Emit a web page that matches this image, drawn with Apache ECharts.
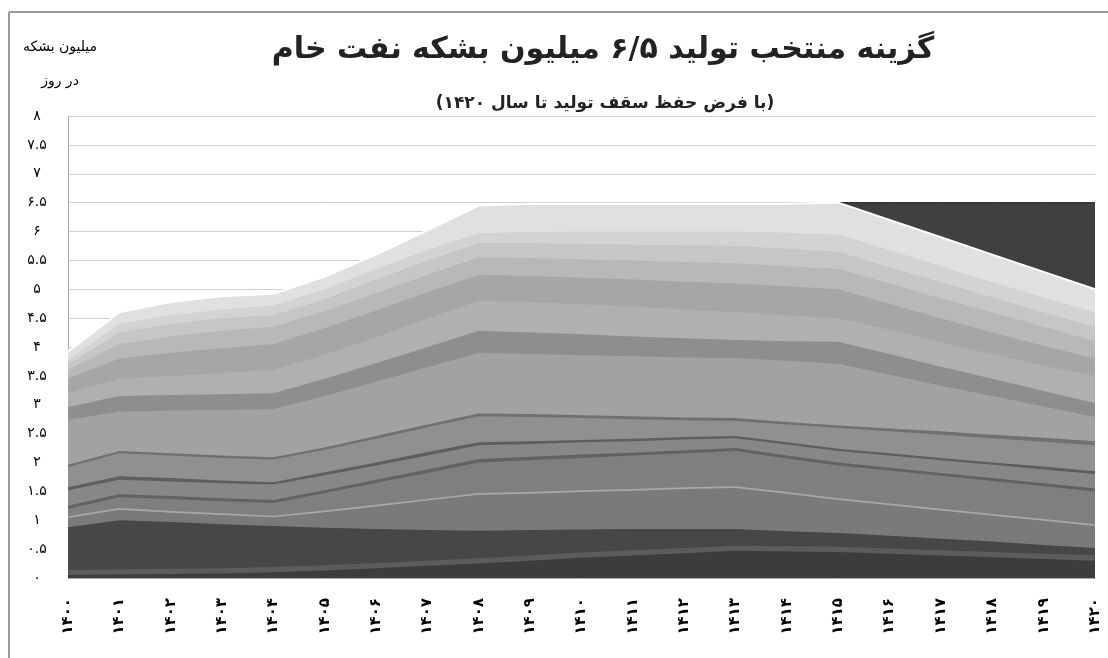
<!DOCTYPE html>
<html><head><meta charset="utf-8">
<script src="https://cdn.jsdelivr.net/npm/echarts@6/dist/echarts.min.js"></script>
<style>html,body{margin:0;padding:0;background:#fff}#c{width:1108px;height:658px}</style>
</head><body><div id="c"></div>
<script>
// Categories (solar years, Persian digits)
const years = ['۱۴۰۰','۱۴۰۱','۱۴۰۲','۱۴۰۳','۱۴۰۴','۱۴۰۵','۱۴۰۶','۱۴۰۷','۱۴۰۸','۱۴۰۹','۱۴۱۰','۱۴۱۱','۱۴۱۲','۱۴۱۳','۱۴۱۴','۱۴۱۵','۱۴۱۶','۱۴۱۷','۱۴۱۸','۱۴۱۹','۱۴۲۰'];
const faDigits = ['۰','۱','۲','۳','۴','۵','۶','۷','۸','۹'];

// Cumulative layer tops (million barrels per day), bottom to top
const c1  = [0.05,0.06,0.07,0.08,0.10,0.13,0.17,0.21,0.25,0.30,0.35,0.39,0.43,0.47,0.46,0.45,0.42,0.39,0.36,0.33,0.30];
const c2  = [0.14,0.15,0.16,0.17,0.19,0.22,0.26,0.30,0.34,0.39,0.44,0.48,0.52,0.56,0.55,0.54,0.51,0.48,0.45,0.42,0.40];
const c3  = [0.88,1.00,0.97,0.93,0.90,0.87,0.85,0.83,0.82,0.83,0.84,0.85,0.85,0.85,0.81,0.78,0.73,0.68,0.63,0.57,0.52];
const c4  = [1.04,1.18,1.13,1.09,1.05,1.14,1.24,1.34,1.44,1.46,1.49,1.51,1.54,1.56,1.46,1.35,1.26,1.17,1.08,0.99,0.90];
const c5  = [1.07,1.21,1.16,1.12,1.08,1.17,1.27,1.37,1.47,1.49,1.52,1.54,1.57,1.59,1.49,1.38,1.29,1.20,1.11,1.02,0.93];
const c6  = [1.20,1.40,1.37,1.33,1.30,1.47,1.65,1.82,2.00,2.04,2.08,2.12,2.16,2.20,2.07,1.95,1.86,1.77,1.68,1.59,1.50];
const c7  = [1.25,1.45,1.42,1.38,1.35,1.52,1.70,1.88,2.06,2.10,2.14,2.17,2.21,2.25,2.12,2.00,1.91,1.82,1.73,1.64,1.55];
const c8  = [1.52,1.70,1.67,1.64,1.62,1.78,1.95,2.12,2.30,2.32,2.35,2.37,2.40,2.42,2.31,2.20,2.12,2.04,1.96,1.88,1.80];
const c9  = [1.57,1.76,1.73,1.69,1.66,1.83,2.00,2.18,2.35,2.37,2.39,2.41,2.44,2.46,2.35,2.24,2.16,2.08,2.00,1.93,1.85];
const c10 = [1.92,2.16,2.12,2.08,2.05,2.22,2.41,2.61,2.80,2.79,2.77,2.75,2.73,2.72,2.66,2.60,2.54,2.48,2.42,2.36,2.30];
const c11 = [1.96,2.20,2.16,2.12,2.09,2.26,2.46,2.66,2.85,2.84,2.82,2.80,2.78,2.77,2.70,2.64,2.59,2.54,2.48,2.43,2.37];
const c12 = [2.74,2.88,2.90,2.91,2.92,3.15,3.40,3.65,3.90,3.88,3.86,3.84,3.82,3.81,3.76,3.71,3.52,3.33,3.15,2.97,2.79];
const c13 = [2.96,3.15,3.17,3.18,3.20,3.45,3.72,4.00,4.28,4.25,4.22,4.18,4.15,4.12,4.10,4.09,3.88,3.66,3.45,3.24,3.03];
const c14 = [3.20,3.45,3.50,3.55,3.60,3.87,4.17,4.50,4.80,4.78,4.74,4.70,4.65,4.60,4.55,4.50,4.30,4.08,3.88,3.68,3.50];
const c15 = [3.45,3.80,3.90,3.98,4.05,4.33,4.63,4.95,5.25,5.23,5.20,5.17,5.13,5.10,5.05,5.00,4.75,4.50,4.25,4.02,3.80];
const c16 = [3.60,4.05,4.18,4.28,4.35,4.62,4.93,5.25,5.55,5.54,5.52,5.50,5.47,5.45,5.40,5.35,5.10,4.84,4.60,4.35,4.10];
const c17 = [3.70,4.25,4.40,4.50,4.55,4.83,5.17,5.50,5.80,5.80,5.78,5.77,5.76,5.75,5.70,5.65,5.38,5.12,4.86,4.60,4.35];
const c18 = [3.78,4.40,4.55,4.65,4.72,5.00,5.35,5.68,5.97,5.99,6.00,6.00,6.00,6.00,5.98,5.95,5.68,5.40,5.12,4.86,4.60];
const total = [3.92,4.60,4.78,4.88,4.92,5.22,5.60,6.02,6.45,6.48,6.48,6.48,6.48,6.48,6.48,6.50,6.20,5.90,5.60,5.30,5.00];
// Production ceiling kept (dark wedge) from 1415 onward
const ceiling = ['-','-','-','-','-','-','-','-','-','-','-','-','-','-','-',6.5,6.5,6.5,6.5,6.5,6.5];

const layers = [
  [total,'#e0e0e0'],[c18,'#d3d3d3'],[c17,'#c6c6c6'],[c16,'#b8b8b8'],[c15,'#a6a6a6'],
  [c14,'#b0b0b0'],[c13,'#8e8e8e'],[c12,'#a2a2a2'],[c11,'#707070'],[c10,'#909090'],
  [c9,'#5e5e5e'],[c8,'#878787'],[c7,'#626262'],[c6,'#7f7f7f'],[c5,'#a8a8a8'],
  [c4,'#7a7a7a'],[c3,'#474747'],[c2,'#5c5c5c'],[c1,'#3c3c3c']
];

const fa = s => String(s).replace(/\d/g, d => faDigits[+d]);
const FONT = 'DejaVu Sans';

const series = [{
  type:'line', data: ceiling, symbol:'none', silent:true, connectNulls:false,
  lineStyle:{color:'#222', width:1}, areaStyle:{color:'#404040', opacity:1}
}];
layers.forEach(([d,col],i)=>{
  series.push({
    type:'line', data:d, symbol:'none', silent:true,
    lineStyle: i===0 ? {color:'#ffffff', width:2} : {width:0},
    areaStyle:{color:col, opacity:1}
  });
});

const chart = echarts.init(document.getElementById('c'));
chart.setOption({
  animation:false,
  backgroundColor:'#fff',
  grid:{left:68, right:13, top:116, bottom:80},
  xAxis:{
    type:'category', data:years, boundaryGap:false,
    axisLine:{lineStyle:{color:'#aaa'}}, axisTick:{show:false},
    axisLabel:{rotate:90, margin:20, fontSize:15, fontWeight:'bold', color:'#000', fontFamily:FONT, interval:0},
    splitLine:{show:false}
  },
  yAxis:{
    type:'value', min:0, max:8, interval:0.5,
    axisLine:{show:true, lineStyle:{color:'#aaa'}}, axisTick:{show:false},
    axisLabel:{formatter: v => fa(v), align:'center', margin:31, fontSize:14, color:'#000', fontFamily:FONT},
    splitLine:{lineStyle:{color:'#cfcfcf', width:1}}
  },
  title:[
    {text:'گزینه منتخب تولید ۶/۵ میلیون بشکه نفت خام', left:598, top:30, textAlign:'center',
     textStyle:{fontFamily:FONT, fontSize:30, fontWeight:'bold', color:'#222'}},
    {text:'(با فرض حفظ سقف تولید تا سال ۱۴۲۰)', left:600, top:90, textAlign:'center',
     textStyle:{fontFamily:FONT, fontSize:17, fontWeight:'bold', color:'#222'}}
  ],
  graphic:[
    {type:'line', shape:{x1:9,y1:12,x2:1108,y2:12}, style:{stroke:'#999', lineWidth:2}, silent:true},
    {type:'line', shape:{x1:9,y1:12,x2:9,y2:658}, style:{stroke:'#999', lineWidth:2}, silent:true},
    {type:'text', x:60, y:47, style:{text:'میلیون بشکه', fontFamily:FONT, fontSize:14, fill:'#000', align:'center', verticalAlign:'middle'}},
    {type:'text', x:60, y:81, style:{text:'در روز', fontFamily:FONT, fontSize:14, fill:'#000', align:'center', verticalAlign:'middle'}}
  ],
  series: series
});
</script></body></html>
